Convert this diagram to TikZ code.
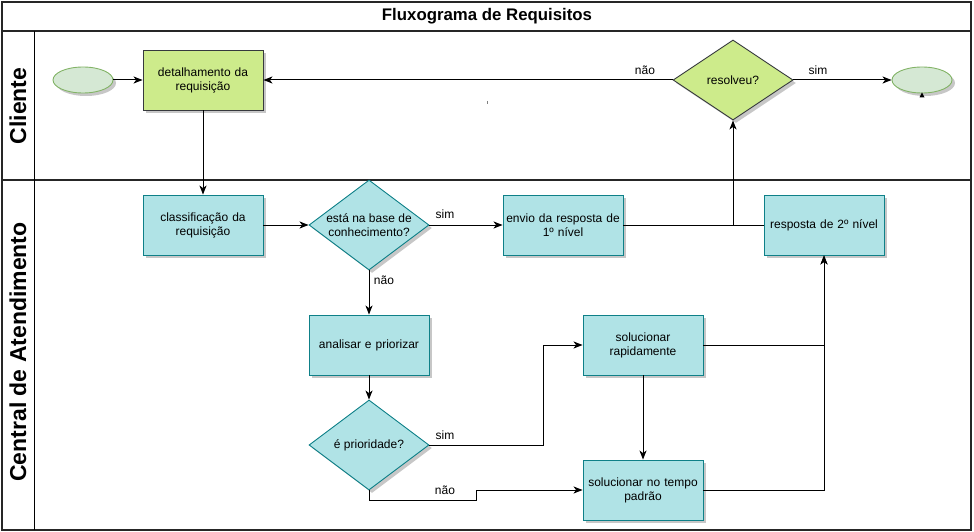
\documentclass[tikz,border=0pt]{standalone}
\usepackage{fontspec}
\setmainfont{Liberation Sans}
\usetikzlibrary{shapes.geometric,arrows.meta,shadows,calc}
\definecolor{gfill}{HTML}{CDEB8B}
\definecolor{gdraw}{HTML}{36393D}
\definecolor{cfill}{HTML}{B0E3E6}
\definecolor{cdraw}{HTML}{0E8088}
\definecolor{efill}{HTML}{D5E8D4}
\definecolor{edraw}{HTML}{82B366}
\begin{document}
\begin{tikzpicture}[x=1pt,y=-1pt,
  shad/.style={drop shadow={shadow xshift=3pt,shadow yshift=-3pt,fill=black,opacity=0.22}},
  txt/.style={font=\fontsize{12}{14}\selectfont},
  gbox/.style={rectangle,minimum width=120pt,minimum height=60pt,inner sep=2pt,text width=114pt,align=center,fill=gfill,draw=gdraw,line width=0.9pt,shad,txt},
  cbox/.style={rectangle,minimum width=120pt,minimum height=60pt,inner sep=2pt,text width=114pt,align=center,fill=cfill,draw=cdraw,line width=0.9pt,shad,txt},
  gdia/.style={diamond,minimum width=120pt,minimum height=80pt,inner sep=0pt,fill=gfill,draw=gdraw,line width=0.9pt,shad},
  cdia/.style={diamond,minimum width=120pt,minimum height=90pt,inner sep=0pt,fill=cfill,draw=cdraw,line width=0.9pt,shad},
  ell/.style={ellipse,minimum width=60pt,minimum height=26pt,inner sep=0pt,fill=efill,draw=edraw,line width=0.9pt,shad},
  lbl/.style={txt,inner sep=1pt},
  diatxt/.style={txt,align=center,inner sep=0pt},
  arr/.style={line width=1pt,-{Stealth[length=9pt,width=7pt,inset=2.5pt]}},
  ln/.style={line width=1pt},
  frame/.style={line width=1.2pt,draw=black!85},
  lane/.style={font=\fontsize{23}{26}\selectfont\bfseries,rotate=90}
]
\useasboundingbox (0,0) rectangle (974,532);
% frame
\draw[frame] (2,2) rectangle (971,530);
\draw[frame] (2,31) -- (971,31);
\draw[frame] (2,180) -- (971,180);
\draw[line width=0.9pt] (34,31) -- (34,530);
\node[font=\fontsize{16.8}{19}\selectfont\bfseries] (title) at (487,16) {Fluxograma de Requisitos};
\node[lane] (lc) at (18,106) {Cliente};
\node[lane] (lca) at (18,352) {Central de Atendimento};
% nodes
\node[ell] (start) at (83,80) {};
\node[gbox] (det) at (203,80) {detalhamento da\\requisição};
\node[gdia,label={[diatxt]center:resolveu?}] (res) at (733,80) {};
\node[ell] (fim) at (922,80) {};
\node[cbox] (cla) at (203,225) {classificação da\\requisição};
\node[cdia,label={[diatxt]center:está na base de\\conhecimento?}] (base) at (369,225) {};
\node[cbox] (env) at (563,225) {envio da resposta de\\1º nível};
\node[cbox] (r2) at (824,225) {resposta de 2º nível};
\node[cbox] (ana) at (369,345) {analisar e priorizar};
\node[cdia,label={[diatxt]center:é prioridade?}] (pri) at (369,445) {};
\node[cbox] (sr) at (643,345) {solucionar\\rapidamente};
\node[cbox] (sp) at (643,490) {solucionar no tempo\\padrão};
% connectors
\draw[arr] (start) -- (det);
\draw[arr] (res.west) -- (det.east);
\draw[arr] (res.east) -- (fim.west);
\draw[arr] (det.south) -- (cla.north);
\draw[arr] (cla.east) -- (base.west);
\draw[arr] (base.east) -- (env.west);
\draw[arr] (base.south) -- (ana.north);
\draw[arr] (ana.south) -- (pri.north);
\draw[arr] (pri.east) -- ++(114,0) |- (sr.west);
\draw[arr] (pri.south) |- (476,500) |- (sp.west);
\draw[arr] (sr.south) -- (sp.north);
\draw[arr] (sr.east) -| (r2.south);
\draw[arr] (sp.east) -| (r2.south);
\draw[ln] (env.east) -- (r2.west);
\coordinate (j) at (res.south |- env.east);
\draw[arr] (j) -- (res.south);
% small stray marks
\fill[black] ($(fim.south)+(0,-1)$) -- ++(-2.5,5) -- ++(5,0) -- cycle;
\draw[gray,line width=0.8pt] (487,101) -- (487,104);
% labels
\node[lbl] (l1) at (645,70) {não};
\node[lbl] (l2) at (818,70) {sim};
\node[lbl] (l3) at (445,214) {sim};
\node[lbl] (l4) at (384,280) {não};
\node[lbl] (l5) at (445,435) {sim};
\node[lbl] (l6) at (445,490) {não};
\end{tikzpicture}
\end{document}
